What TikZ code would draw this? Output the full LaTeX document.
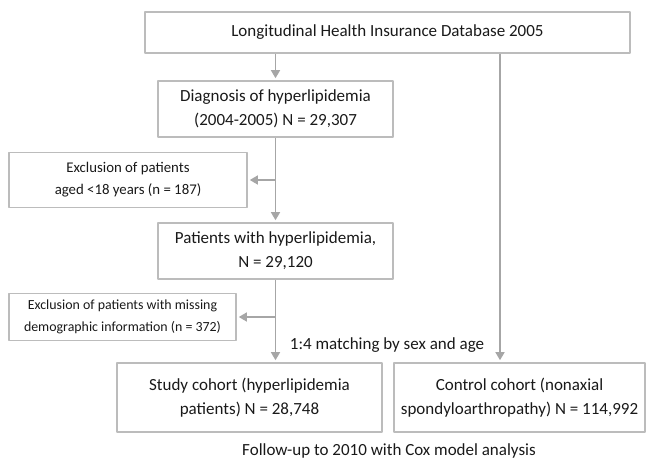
\documentclass[tikz,border=0pt]{standalone}
\usepackage{fontspec}
\setmainfont{Carlito}
\usetikzlibrary{arrows.meta}
\definecolor{boxgray}{RGB}{188,188,188}
\definecolor{linegray}{RGB}{166,166,166}
\definecolor{txtgray}{RGB}{25,25,25}
\tikzset{
  box/.style={draw=boxgray, line width=1.6pt, align=center, inner sep=0pt, text=txtgray},
  bigtxt/.style={font=\fontsize{17}{24}\selectfont},
  smalltxt/.style={font=\fontsize{13.9}{22}\selectfont},
  flow/.style={draw=linegray, line width=1.5pt, shorten >=2pt}
}
\begin{document}
\begin{tikzpicture}[x=1pt, y=-1pt, >={Triangle[width=9pt,length=8pt]}, line join=round]
	\useasboundingbox (0,0) rectangle (655,461);
	% boxes
	\node[box, bigtxt, minimum width=485pt, minimum height=41pt] (db) at (387.5,32.5) {Longitudinal Health Insurance Database 2005};
	\node[box, bigtxt, minimum width=235pt, minimum height=56pt] (diag) at (275.5,109) {Diagnosis of hyperlipidemia\\(2004-2005) N = 29,307};
	\node[box, smalltxt, font=\fontsize{14.8}{22}\selectfont, minimum width=238pt, minimum height=55pt] (excla) at (128,180) {Exclusion of patients\\aged <18 years (n = 187)};
	\node[box, smalltxt, minimum width=227pt, minimum height=47pt] (exclb) at (122.5,317) {Exclusion of patients with missing\\demographic information (n = 372)};
	\node[box, bigtxt, minimum width=235pt, minimum height=56pt] (pat) at (275.5,251) {Patients with hyperlipidemia,\\N = 29,120};
	\node[box, bigtxt, minimum width=265pt, minimum height=69pt] (study) at (249.5,397.5) {Study cohort (hyperlipidemia\\patients) N = 28,748};
	\node[box, bigtxt, minimum width=251pt, minimum height=69pt] (ctrl) at (519.5,397.5) {Control cohort (nonaxial\\spondyloarthropathy) N = 114,992};
	% texts
	\node[bigtxt, text=txtgray] (match) at (387,345) {1:4 matching by sex and age};
	\node[bigtxt, text=txtgray] (follow) at (389,451) {Follow-up to 2010 with Cox model analysis};
	% arrows
	\coordinate (rgt) at (500,0);
	\draw[flow,->] (db.south -| diag.north) -- (diag.north);
	\draw[flow,->] (diag.south) -- (pat.north);
	\draw[flow,->] (diag.south |- excla.east) -- (excla.east);
	\draw[flow,->] (pat.south) -- (pat.south |- study.north);
	\draw[flow,->] (pat.south |- exclb.east) -- (exclb.east);
	\draw[flow,->] (db.south -| rgt) -- (ctrl.north -| rgt);
\end{tikzpicture}
\end{document}
